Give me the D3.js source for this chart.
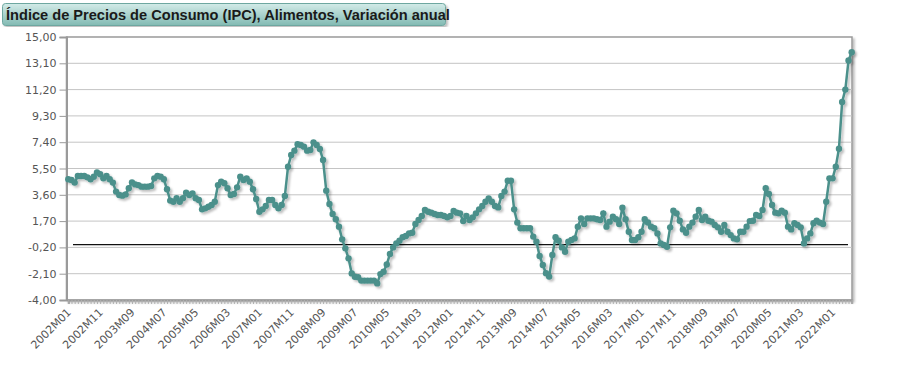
<!DOCTYPE html>
<html>
<head>
<meta charset="utf-8">
<script src="https://cdn.jsdelivr.net/npm/d3@7"></script>
<style>
  body { margin: 0; background: #fff; }
  svg { display: block; }
</style>
</head>
<body>
<script>
// annual food CPI change, monthly, 2002M01 .. 2022M07
var startYear = 2002;
var values = [
  4.72, 4.67, 4.48, 4.96, 4.96, 4.96, 4.86, 4.72, 4.9, 5.22, 5.08, 4.79,
  4.96, 4.72, 4.48, 3.83, 3.59, 3.54, 3.63, 4.07, 4.5, 4.35, 4.3, 4.19,
  4.19, 4.19, 4.24, 4.79, 4.96, 4.91, 4.72, 4.0, 3.18, 3.1, 3.35, 3.1,
  3.35, 3.75, 3.59, 3.7, 3.35, 3.22, 2.55, 2.62, 2.74, 2.86, 3.1, 4.3,
  4.55, 4.43, 4.07, 3.59, 3.66, 4.14, 4.91, 4.67, 4.79, 4.55, 4.0, 3.3,
  2.38, 2.55, 2.79, 3.22, 3.22, 2.86, 2.62, 2.86, 3.51, 5.63, 6.47, 6.79,
  7.25, 7.2, 7.08, 6.79, 6.84, 7.39, 7.2, 6.91, 6.11, 3.9, 2.94, 2.21,
  1.83, 1.3, 0.38, -0.27, -0.99, -2.08, -2.32, -2.36, -2.6, -2.6, -2.6, -2.6,
  -2.6, -2.8, -2.13, -1.96, -1.43, -0.68, -0.2, 0.09, 0.28, 0.53, 0.62, 0.81,
  0.86, 1.49, 1.78, 2.07, 2.5, 2.38, 2.31, 2.21, 2.14, 2.14, 2.07, 1.97,
  2.07, 2.43, 2.31, 2.26, 1.7, 2.07, 1.78, 1.97, 2.26, 2.55, 2.79, 3.1,
  3.34, 3.1, 2.79, 2.69, 3.51, 3.83, 4.62, 4.62, 2.55, 1.59, 1.18, 1.18,
  1.18, 1.18, 0.58, 0.21, -0.82, -1.47, -2.07, -2.31, -0.75, 0.53, 0.28, -0.2,
  -0.51, 0.21, 0.33, 0.45, 1.3, 1.9, 1.49, 1.9, 1.9, 1.9, 1.83, 1.78,
  2.26, 1.3, 1.66, 2.02, 1.83, 1.49, 2.67, 1.83, 0.93, 0.33, 0.33, 0.53,
  0.93, 1.83, 1.6, 1.3, 1.18, 0.81, 0.09, -0.03, -0.15, 1.25, 2.45, 2.26,
  1.73, 1.1, 0.86, 1.3, 1.59, 2.02, 2.5, 1.78, 2.02, 1.73, 1.66, 1.42,
  1.25, 0.93, 1.42, 0.93, 0.69, 0.45, 0.38, 0.93, 0.93, 1.3, 1.7, 1.73,
  2.14, 2.07, 2.5, 4.07, 3.66, 2.86, 2.31, 2.26, 2.45, 2.31, 1.3, 1.1,
  1.54, 1.42, 1.25, 0.09, 0.45, 0.81, 1.54, 1.73, 1.59, 1.49, 3.1, 4.79,
  4.79, 5.63, 6.93, 10.3, 11.2, 13.3, 13.9
];
var months = values.map(function(d, i) {
    var y = startYear + Math.floor(i / 12), m = i % 12 + 1;
    return y + "M" + (m < 10 ? "0" + m : m);
});
var yTicks = [15, 13.1, 11.2, 9.3, 7.4, 5.5, 3.6, 1.7, -0.2, -2.1, -4];
var labelStep = 10;
var title = "Índice de Precios de Consumo (IPC), Alimentos, Variación anual";

var W = 897, H = 368;
var plot = { left: 66.5, right: 852, top: 37, bottom: 300 };

var svg = d3.select("body").append("svg")
    .attr("width", W)
    .attr("height", H);

var defs = svg.append("defs");
var grad = defs.append("linearGradient")
    .attr("id", "titleGrad")
    .attr("x1", 0).attr("y1", 0).attr("x2", 0).attr("y2", 1);
grad.append("stop").attr("offset", "0%").attr("stop-color", "#d3ebe8");
grad.append("stop").attr("offset", "100%").attr("stop-color", "#82bab3");

var shadow = defs.append("filter").attr("id", "shadow")
    .attr("x", "-5%").attr("y", "-5%").attr("width", "110%").attr("height", "110%");
shadow.append("feDropShadow")
    .attr("dx", 2).attr("dy", 2).attr("stdDeviation", 1.2)
    .attr("flood-color", "#000").attr("flood-opacity", 0.25);

// title bar
svg.append("rect")
    .attr("x", 2.5).attr("y", 3.5)
    .attr("width", 443).attr("height", 22)
    .attr("rx", 3)
    .attr("fill", "url(#titleGrad)")
    .attr("stroke", "#6ea7a0")
    .attr("filter", "url(#shadow)");
svg.append("text")
    .attr("x", 6).attr("y", 20)
    .attr("font-family", "Liberation Sans, Arial, sans-serif")
    .attr("font-weight", "bold")
    .attr("font-size", "14.6px")
    .attr("fill", "#1a1a1a")
    .text(title);

var x = d3.scaleLinear()
    .domain([0, values.length - 1])
    .range([68.3, 851.7]);
var y = d3.scaleLinear()
    .domain([-4, 15])
    .range([plot.bottom, plot.top]);

// plot frame
svg.append("rect")
    .attr("x", plot.left).attr("y", plot.top)
    .attr("width", plot.right - plot.left)
    .attr("height", plot.bottom - plot.top)
    .attr("fill", "#fff")
    .attr("stroke", "#9a9a9a")
    .attr("stroke-width", 1.5)
    .attr("filter", "url(#shadow)");

// gridlines
svg.append("g").selectAll("line")
    .data(yTicks.slice(1, -1))
    .enter()
    .append("line")
    .attr("x1", plot.left).attr("x2", plot.right)
    .attr("y1", function(d) { return y(d); })
    .attr("y2", function(d) { return y(d); })
    .attr("stroke", "#c4c4c4")
    .attr("stroke-width", 1);

// y axis
var yAxis = d3.axisLeft(y)
    .tickValues(yTicks)
    .tickSize(7)
    .tickPadding(3)
    .tickFormat(function(d) { return d.toFixed(2).replace(".", ","); });
var gy = svg.append("g")
    .attr("transform", "translate(" + plot.left + ",0)")
    .call(yAxis);
gy.select(".domain").attr("stroke", "#9a9a9a").attr("stroke-width", 2);
gy.selectAll(".tick line").attr("stroke", "#9a9a9a");
gy.selectAll("text")
    .attr("font-family", "DejaVu Sans, sans-serif")
    .attr("font-size", "11px")
    .attr("fill", "#555");

// x axis: monthly ticks, labels every 10 months
var xAxis = d3.axisBottom(x)
    .tickValues(d3.range(values.length))
    .tickSize(4)
    .tickFormat(function(i) { return i % labelStep === 0 ? months[i] : ""; });
var gx = svg.append("g")
    .attr("transform", "translate(0," + plot.bottom + ")")
    .call(xAxis);
gx.select(".domain").attr("stroke", "#9a9a9a").attr("stroke-width", 2);
gx.selectAll(".tick line").attr("stroke", "#b0b0b0");
gx.selectAll("text")
    .attr("font-family", "DejaVu Sans, sans-serif")
    .attr("font-size", "11px")
    .attr("fill", "#555")
    .attr("text-anchor", "end")
    .attr("x", 0).attr("y", 0).attr("dy", 0)
    .attr("transform", "translate(3,13) rotate(-45)");

// zero line
svg.append("line")
    .attr("x1", 73).attr("x2", 848)
    .attr("y1", y(0)).attr("y2", y(0))
    .attr("stroke", "#111")
    .attr("stroke-width", 1.2);

// series
var series = svg.append("g").attr("filter", "url(#shadow)");
var line = d3.line()
    .x(function(d, i) { return x(i); })
    .y(function(d) { return y(d); });
series.append("path")
    .datum(values)
    .attr("d", line)
    .attr("fill", "none")
    .attr("stroke", "#4b908b")
    .attr("stroke-width", 2.5);
series.selectAll("circle")
    .data(values)
    .enter()
    .append("circle")
    .attr("cx", function(d, i) { return x(i); })
    .attr("cy", function(d) { return y(d); })
    .attr("r", 3.2)
    .attr("fill", "#4b908b");
</script>
</body>
</html>
